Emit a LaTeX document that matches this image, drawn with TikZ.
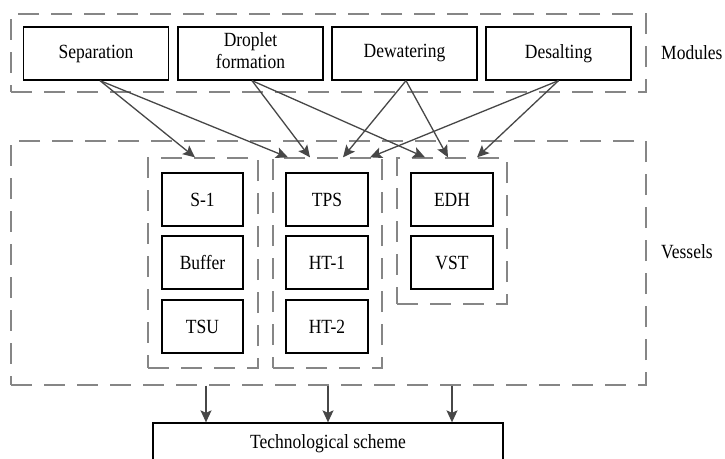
\documentclass[tikz,border=0pt]{standalone}
\usepackage{fontspec}
\setmainfont{Liberation Serif}
\newfontfamily\timesf{Liberation Serif}
\usetikzlibrary{arrows.meta,calc}
\newcommand{\vtxt}[1]{\scalebox{1}[1.15]{#1}}
\begin{document}
\begin{tikzpicture}[x=1pt,y=-1pt,
  every node/.style={font=\timesf\fontsize{17.5}{19}\selectfont},
  modbox/.style={draw=black,line width=1.3pt,fill=white,minimum width=145pt,minimum height=53pt,inner sep=0pt,align=center},
  vesbox/.style={draw=black,line width=1.3pt,fill=white,minimum width=82pt,minimum height=53pt,inner sep=0pt},
  grp/.style={draw=gray!95,line width=1.3pt,dash pattern=on 21pt off 12pt,inner sep=0pt},
  arr/.style={draw=black!72,line width=1.3pt,-{Stealth[length=12pt,width=11pt,inset=2.5pt]}},
  lbl/.style={anchor=west,inner sep=0pt}]
\clip (0,0) rectangle (725,458);
\fill[white] (0,0) rectangle (725,458);
% outer dashed regions
\node[grp,minimum width=635pt,minimum height=78pt] (mods) at (328.5,53) {};
\node[grp,minimum width=635pt,minimum height=244pt] (ves) at (328.5,263) {};
% groups
\node[grp,minimum width=110pt,minimum height=210pt] (g1) at (203,263) {};
\node[grp,minimum width=109pt,minimum height=210pt] (g2) at (327.5,263) {};
\node[grp,minimum width=110pt,minimum height=146pt] (g3) at (452,231) {};
% module boxes
\node[modbox] (sep) at (96,53.5) {\vtxt{Separation}};
\node[modbox] (drop) at (250.5,53.5) {\vtxt{\begin{tabular}{@{}c@{}}Droplet\\formation\end{tabular}}};
\node[modbox] (dew) at (404.5,53.5) {\vtxt{Dewatering}};
\node[modbox] (des) at (558.5,53.5) {\vtxt{Desalting}};
% vessel boxes
\node[vesbox,minimum width=81pt] (s1) at (202.5,199.5) {\vtxt{S-1}};
\node[vesbox,minimum width=81pt] (buf) at (202.5,262.5) {\vtxt{Buffer}};
\node[vesbox,minimum width=81pt] (tsu) at (202.5,326.5) {\vtxt{TSU}};
\node[vesbox] (tps) at (327,199.5) {\vtxt{TPS}};
\node[vesbox] (ht1) at (327,262.5) {\vtxt{HT-1}};
\node[vesbox] (ht2) at (327,326.5) {\vtxt{HT-2}};
\node[vesbox] (edh) at (452,199.5) {\vtxt{EDH}};
\node[vesbox] (vst) at (452,262.5) {\vtxt{VST}};
% labels
\node[lbl] (lmod) at (661,53) {\vtxt{Modules}};
\node[lbl] (lves) at (661,252) {\vtxt{Vessels}};
% bottom box
\node[draw=black,line width=1.3pt,fill=white,minimum width=350pt,minimum height=42pt,inner sep=0pt] (scheme) at (328,444) {\vtxt{Technological scheme}};
% arrows modules -> groups
\draw[arr] ([xshift=4pt]sep.south) -- ([xshift=-8pt]g1.north);
\draw[arr] ([xshift=4pt]sep.south) -- ([xshift=-39.5pt]g2.north);
\draw[arr] ([xshift=1.5pt]drop.south) -- ([xshift=-17.5pt]g2.north);
\draw[arr] ([xshift=1.5pt]drop.south) -- ([xshift=-27pt]g3.north);
\draw[arr] ([xshift=1.5pt]dew.south) -- ([xshift=15.5pt]g2.north);
\draw[arr] ([xshift=1.5pt]dew.south) -- ([xshift=-4pt]g3.north);
\draw[arr] (des.south) -- ([xshift=42.5pt]g2.north);
\draw[arr] (des.south) -- ([xshift=25pt]g3.north);
% arrows vessels -> scheme
\coordinate (v1) at ([xshift=-122.5pt]ves.south);
\coordinate (v2) at ([xshift=-0.5pt]ves.south);
\coordinate (v3) at ([xshift=123.5pt]ves.south);
\draw[arr] (v1) -- (v1 |- scheme.north);
\draw[arr] (v2) -- (v2 |- scheme.north);
\draw[arr] (v3) -- (v3 |- scheme.north);
\end{tikzpicture}
\end{document}
